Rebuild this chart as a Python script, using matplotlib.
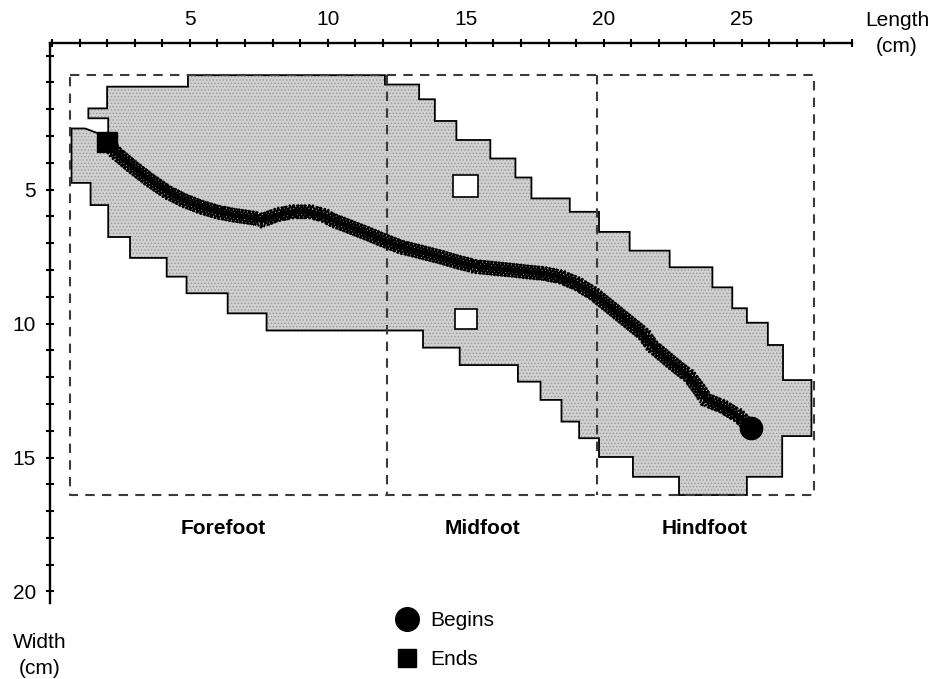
import matplotlib
matplotlib.use("Agg")
import matplotlib.pyplot as plt
import matplotlib.patheffects as pe
from matplotlib.lines import Line2D

plt.rcParams['font.family'] = ['Liberation Sans', 'DejaVu Sans']
plt.rcParams['hatch.linewidth'] = 0.6

# foot contact area outline (cm), y measured downward
foot_x = [4.93, 12.07, 12.07, 13.31, 13.31, 13.88, 13.88, 14.66, 14.66, 15.89,
          15.89, 16.80, 16.80, 17.38, 17.38, 18.77, 18.77, 19.83, 19.83, 20.94,
          20.94, 22.39, 22.39, 23.94, 23.94, 24.66, 24.66, 25.19, 25.19, 25.95,
          25.95, 26.50, 26.50, 27.53, 27.53, 26.47, 26.47, 25.19, 25.19, 22.73,
          22.73, 21.06, 21.06, 19.83, 19.83, 19.11, 19.11, 18.47, 18.47, 17.71,
          17.71, 16.89, 16.89, 14.78, 14.78, 13.45, 13.45, 7.78, 7.78, 6.37,
          6.37, 4.88, 4.88, 4.16, 4.16, 2.83, 2.83, 2.04, 2.04, 1.40,
          1.40, 0.71, 0.71, 1.20, 1.80, 2.04, 2.04, 1.32, 1.32, 2.00,
          2.00, 4.93]
foot_y = [0.73, 0.73, 1.08, 1.08, 1.63, 1.63, 2.44, 2.44, 3.15, 3.15,
          3.84, 3.84, 4.55, 4.55, 5.33, 5.33, 5.83, 5.83, 6.58, 6.58,
          7.28, 7.28, 7.90, 7.90, 8.65, 8.65, 9.43, 9.43, 9.97, 9.97,
          10.80, 10.80, 12.11, 12.11, 14.20, 14.20, 15.72, 15.72, 16.40, 16.40,
          15.72, 15.72, 14.98, 14.98, 14.28, 14.28, 13.66, 13.66, 12.85, 12.85,
          12.17, 12.17, 11.55, 11.55, 10.90, 10.90, 10.26, 10.26, 9.62, 9.62,
          8.87, 8.87, 8.25, 8.25, 7.55, 7.55, 6.77, 6.77, 5.58, 5.58,
          4.75, 4.75, 2.72, 2.72, 2.95, 2.95, 2.34, 2.34, 1.97, 1.97,
          1.16, 1.16]

# two empty cells inside the contact area
hole1_x = [14.54, 15.44, 15.44, 14.54]
hole1_y = [4.46, 4.46, 5.27, 5.27]
hole2_x = [14.60, 15.41, 15.41, 14.60]
hole2_y = [9.47, 9.47, 10.22, 10.22]

# centre of pressure trajectory (from heel to toe)
cop_x = [25.35, 24.93, 24.32, 23.72, 23.48, 23.12, 22.51, 21.79, 21.42, 20.82,
         20.22, 19.61, 19.01, 18.41, 17.80, 17.20, 16.59, 15.99, 15.39, 14.66,
         14.06, 13.33, 12.61, 11.99, 11.40, 10.80, 10.18, 9.82, 9.35, 8.73,
         8.14, 7.64, 7.28, 6.56, 5.97, 5.36, 4.75, 4.16, 3.55, 2.93,
         2.34, 1.98]
cop_y = [13.91, 13.48, 13.10, 12.85, 12.48, 11.99, 11.49, 10.87, 10.37, 9.87,
         9.37, 8.87, 8.50, 8.25, 8.13, 8.07, 8.00, 7.94, 7.88, 7.69,
         7.51, 7.32, 7.13, 6.88, 6.63, 6.39, 6.14, 5.95, 5.83, 5.83,
         5.95, 6.14, 6.06, 5.95, 5.83, 5.64, 5.39, 5.08, 4.65, 4.16,
         3.65, 3.22]

# region box and divisions (cm)
box_x = [0.65, 27.64]
box_y = [0.73, 16.40]
dividers = [12.13, 19.75]
sections = ["Forefoot", "Midfoot", "Hindfoot"]

fig = plt.figure(figsize=(9.35, 6.79), dpi=100)
ax = fig.add_axes([50 / 935, 1 - 603 / 679, 802 / 935, 560 / 679])
ax.set_xlim(-0.07, 29.0)
ax.set_ylim(20.43, -0.47)

# contact area
ax.fill(foot_x, foot_y, facecolor='#d0d0d0', edgecolor='#9a9a9a',
        hatch='.....', linewidth=0, zorder=1)
ax.fill(foot_x, foot_y, facecolor='none', edgecolor='black', linewidth=1.3, zorder=2)
for hx, hy in [(hole1_x, hole1_y), (hole2_x, hole2_y)]:
    ax.fill(hx, hy, facecolor='white', edgecolor='black', linewidth=1.2, zorder=2)

# dashed regions
dash = dict(color='#3a3a3a', linewidth=1.5, linestyle=(0, (4.5, 3.5)), zorder=3)
ax.plot([box_x[0], box_x[1], box_x[1], box_x[0], box_x[0]],
        [box_y[0], box_y[0], box_y[1], box_y[1], box_y[0]], **dash)
for d in dividers:
    ax.plot([d, d], box_y, **dash)

# section names
for name, xc in zip(sections, [6.21, 15.6, 23.66]):
    ax.text(xc, 17.66, name, ha='center', va='center', fontsize=15, fontweight='bold')

# trajectory drawn as a line of crosses
ticks = dict(spacing=2.6, length=2.1, linewidth=1.5)
ax.plot(cop_x, cop_y, color='black', linewidth=3.2, zorder=4,
        path_effects=[pe.withTickedStroke(angle=55, **ticks),
                      pe.withTickedStroke(angle=-125, **ticks),
                      pe.withTickedStroke(angle=125, **ticks),
                      pe.withTickedStroke(angle=-55, **ticks),
                      pe.Normal()])
begin, = ax.plot(cop_x[0], cop_y[0], 'o', color='black', markersize=16, zorder=5)
end, = ax.plot(cop_x[-1], cop_y[-1], 's', color='black', markersize=14, zorder=5)

# axes: only top and left
ax.spines['bottom'].set_visible(False)
ax.spines['right'].set_visible(False)
ax.spines['top'].set_linewidth(1.7)
ax.spines['left'].set_linewidth(1.7)
ax.xaxis.tick_top()
ax.set_xticks([5, 10, 15, 20, 25])
ax.set_xticks(range(0, 30), minor=True)
ax.set_yticks([5, 10, 15, 20])
ax.set_yticks(range(0, 21), minor=True)
ax.tick_params(which='both', direction='inout', length=6, width=1.5, labelsize=15, pad=7)
ax.tick_params(axis='x', which='both', top=True, bottom=False)

fig.text(897 / 935, 1 - 11 / 679, "Length\n(cm)", ha='center', va='top',
         fontsize=15, linespacing=1.45)
fig.text(40 / 935, 1 - 633 / 679, "Width\n(cm)", ha='center', va='top',
         fontsize=15, linespacing=1.45)

h1 = Line2D([], [], marker='o', color='black', linestyle='none', markersize=17)
h2 = Line2D([], [], marker='s', color='black', linestyle='none', markersize=13)
fig.legend([h1, h2], ["Begins", "Ends"], loc='upper left',
           bbox_to_anchor=(397 / 935, 1 - 611 / 679), frameon=False,
           fontsize=15, handlelength=1.0, handletextpad=0.6, labelspacing=0.95,
           borderpad=0, borderaxespad=0)

fig.savefig("out.png", dpi=100)
